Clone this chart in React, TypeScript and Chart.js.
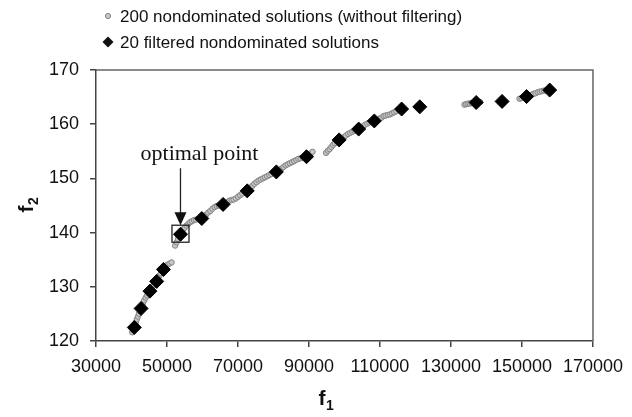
import React, { useEffect, useRef } from "react";
import { Chart, registerables } from "chart.js";

Chart.register(...registerables);

// ---- data ----
const xTickValues = [30000, 50000, 70000, 90000, 110000, 130000, 150000, 170000];
const yTickValues = [120, 130, 140, 150, 160, 170];

// 200 nondominated solutions (without filtering)
const allF1 = [
  40200, 40500, 40900, 41200, 41500, 41800, 42100, 42400, 42900, 43200, 43600, 44000, 44400, 44800,
  45500, 45900, 46300, 46700, 47500, 47900, 48300, 48600, 49400, 49800, 50200, 50700, 51300,
  52300, 52700, 53100, 53500, 54200, 54600, 55000, 55500, 56000, 56500, 57000, 57600, 58200, 58800,
  60400, 61000, 61600, 62200, 62800, 63400, 64000, 64600, 65200, 66400, 67000, 67600, 68200, 68800,
  69400, 70000, 70600, 71200, 71900, 73300, 74000, 74600, 75200, 75800, 76400, 77000, 77600, 78200,
  78800, 79400, 80100, 81500, 82200, 82800, 83400, 84000, 84600, 85200, 85800, 86400, 87000, 87600,
  88300, 90000, 90500, 91000,
  94800, 95300, 95800, 96300, 96800, 97300, 97800, 99200, 99800, 100400, 101000, 101600, 102200,
  102800, 103400, 104600, 105200, 105800, 106400, 107000, 107600, 109200, 109800, 110400, 111000,
  111600, 112200, 112800, 113400, 114000, 114600, 115300,
  133800, 134300, 134800, 135300, 135800, 136400, 137700, 138200,
  149300, 149900, 150500, 152000, 152600, 153200, 153800, 154400, 155000, 155600, 156200, 156800, 157300,
];
const allF2 = [
  121.6, 122.0, 122.9, 123.4, 124.0, 124.5, 125.0, 125.5, 126.4, 126.9, 127.5, 128.0, 128.4, 128.8,
  129.6, 130.1, 130.4, 130.7, 131.6, 132.1, 132.5, 132.9, 133.6, 133.9, 134.1, 134.3, 134.5,
  137.6, 138.2, 138.8, 139.3, 140.2, 140.6, 140.9, 141.3, 141.6, 141.9, 142.1, 142.3, 142.4, 142.5,
  142.9, 143.3, 143.7, 144.0, 144.4, 144.7, 144.9, 145.0, 145.1, 145.4, 145.6, 145.9, 146.0, 146.1,
  146.3, 146.6, 146.9, 147.2, 147.5, 148.1, 148.6, 149.0, 149.3, 149.6, 149.8, 150.0, 150.2, 150.4,
  150.6, 150.8, 151.0, 151.5, 151.8, 152.1, 152.4, 152.6, 152.8, 153.0, 153.2, 153.4, 153.6, 153.7,
  153.8, 154.3, 154.6, 154.9,
  154.7, 155.1, 155.4, 155.8, 156.2, 156.5, 156.8, 157.4, 157.6, 157.9, 158.2, 158.4, 158.6,
  158.8, 158.9, 159.3, 159.6, 159.9, 160.1, 160.3, 160.4, 160.8, 161.0, 161.2, 161.5,
  161.6, 161.7, 161.8, 162.0, 162.2, 162.4, 162.6,
  163.6, 163.7, 163.8, 163.8, 163.9, 163.9, 164.0, 164.1,
  164.7, 164.8, 164.9, 165.2, 165.4, 165.6, 165.7, 165.9, 166.0, 166.1, 166.2, 166.2, 166.3,
];

// 20 filtered nondominated solutions
const filteredF1 = [
  40800, 42700, 45200, 47100, 49000, 53800, 59800, 65800, 72600, 80800,
  89300, 98500, 104000, 108400, 116100, 121200, 137100, 144400, 151300, 157800,
];
const filteredF2 = [
  122.5, 126.0, 129.2, 131.0, 133.2, 139.7, 142.6, 145.2, 147.7, 151.2,
  154.0, 157.1, 159.1, 160.6, 162.8, 163.2, 164.0, 164.2, 165.1, 166.3,
];
const optimalIndex = 5;

const legendLabels = [
  "200 nondominated solutions (without filtering)",
  "20 filtered nondominated solutions",
];
const annotationText = "optimal point";
const xTitle = ["f", "1"];
const yTitle = ["f", "2"];

const SANS = '"Liberation Sans", Arial, sans-serif';
const SERIF = '"Liberation Serif", "Times New Roman", serif';

const GREY_FILL = "#c6c6c6";
const GREY_EDGE = "#858585";

function drawDiamond(ctx: CanvasRenderingContext2D, x: number, y: number, r: number) {
  ctx.beginPath();
  ctx.moveTo(x, y - r);
  ctx.lineTo(x + r, y);
  ctx.lineTo(x, y + r);
  ctx.lineTo(x - r, y);
  ctx.closePath();
  ctx.fill();
}

function drawSubTitle(
  ctx: CanvasRenderingContext2D,
  parts: string[],
  cx: number,
  cy: number,
  rotate: boolean
) {
  ctx.save();
  ctx.translate(cx, cy);
  if (rotate) ctx.rotate(-Math.PI / 2);
  ctx.fillStyle = "#111";
  ctx.textBaseline = "alphabetic";
  ctx.textAlign = "left";
  ctx.font = `bold 21px ${SANS}`;
  const w1 = ctx.measureText(parts[0]).width;
  ctx.font = `bold 14px ${SANS}`;
  const w2 = ctx.measureText(parts[1]).width;
  const start = -(w1 + w2) / 2;
  ctx.font = `bold 21px ${SANS}`;
  ctx.fillText(parts[0], start, 7);
  ctx.font = `bold 14px ${SANS}`;
  ctx.fillText(parts[1], start + w1 + 0.5, 12);
  ctx.restore();
}

const decorPlugin = {
  id: "decor",
  beforeDraw(chart: any) {
    const { ctx, width, height } = chart;
    ctx.save();
    ctx.fillStyle = "#fff";
    ctx.fillRect(0, 0, width, height);
    ctx.restore();
  },
  afterDraw(chart: any) {
    const { ctx, chartArea: a, scales } = chart;
    ctx.save();
    // top & right frame
    ctx.strokeStyle = "#666";
    ctx.lineWidth = 1.5;
    ctx.beginPath();
    ctx.moveTo(a.left, a.top);
    ctx.lineTo(a.right, a.top);
    ctx.lineTo(a.right, a.bottom);
    ctx.stroke();

    // optimal point box + arrow + text
    const px = scales.x.getPixelForValue(filteredF1[optimalIndex]);
    const py = scales.y.getPixelForValue(filteredF2[optimalIndex]);
    ctx.strokeStyle = "#222";
    ctx.lineWidth = 1.3;
    ctx.strokeRect(px - 8.5, py - 9, 17, 17);
    ctx.beginPath();
    ctx.moveTo(px, py - 66);
    ctx.lineTo(px, py - 20);
    ctx.stroke();
    ctx.fillStyle = "#111";
    ctx.beginPath();
    ctx.moveTo(px - 6, py - 22);
    ctx.lineTo(px + 6, py - 22);
    ctx.lineTo(px, py - 9);
    ctx.closePath();
    ctx.fill();
    ctx.font = `22px ${SERIF}`;
    ctx.textAlign = "center";
    ctx.textBaseline = "alphabetic";
    ctx.fillText(annotationText, px + 19, py - 74);

    // legend
    ctx.font = `17px ${SANS}`;
    ctx.textAlign = "left";
    ctx.textBaseline = "middle";
    const lx = 108;
    const ly1 = 16;
    const ly2 = 42;
    ctx.beginPath();
    ctx.arc(lx, ly1, 2.6, 0, Math.PI * 2);
    ctx.fillStyle = GREY_FILL;
    ctx.fill();
    ctx.strokeStyle = GREY_EDGE;
    ctx.lineWidth = 1;
    ctx.stroke();
    ctx.fillStyle = "#111";
    ctx.fillText(legendLabels[0], lx + 12, ly1 + 1);
    drawDiamond(ctx, lx, ly2, 5.5);
    ctx.fillText(legendLabels[1], lx + 12, ly2 + 1);

    // axis titles
    drawSubTitle(ctx, xTitle, 326, 398, false);
    drawSubTitle(ctx, yTitle, 26, 205, true);
    ctx.restore();
  },
};

export default function App() {
  const ref = useRef<HTMLCanvasElement>(null);
  useEffect(() => {
    if (!ref.current) return;
    const chart = new Chart(ref.current, {
      type: "scatter",
      data: {
        datasets: [
          {
            label: legendLabels[1],
            data: filteredF1.map((x, i) => ({ x, y: filteredF2[i] })),
            pointStyle: "rectRot",
            pointRadius: 7,
            backgroundColor: "#000",
            borderColor: "#000",
            borderWidth: 1,
            order: 1,
          },
          {
            label: legendLabels[0],
            data: allF1.map((x, i) => ({ x, y: allF2[i] })),
            pointStyle: "circle",
            pointRadius: 2.7,
            backgroundColor: GREY_FILL,
            borderColor: GREY_EDGE,
            borderWidth: 1,
            order: 2,
          },
        ],
      },
      options: {
        responsive: false,
        animation: false,
        events: [],
        layout: { padding: { top: 70, right: 32, left: 0, bottom: 0 } },
        plugins: { legend: { display: false }, tooltip: { enabled: false } },
        scales: {
          x: {
            type: "linear",
            min: 30000,
            max: 170000,
            afterBuildTicks: (s: any) => {
              s.ticks = xTickValues.map((v) => ({ value: v }));
            },
            afterFit: (s: any) => {
              s.height = 76;
            },
            border: { display: true, color: "#444", width: 1.5 },
            grid: {
              display: true,
              drawOnChartArea: false,
              drawTicks: true,
              tickLength: 6,
              color: "#444",
              lineWidth: 1.5,
            },
            ticks: {
              font: { family: SANS, size: 18 },
              color: "#111",
              padding: 9,
              maxRotation: 0,
              autoSkip: false,
              callback: (v: any) => String(v),
            },
          },
          y: {
            type: "linear",
            min: 120,
            max: 170,
            afterBuildTicks: (s: any) => {
              s.ticks = yTickValues.map((v) => ({ value: v }));
            },
            afterFit: (s: any) => {
              s.width = 96;
            },
            border: { display: true, color: "#444", width: 1.5 },
            grid: {
              display: true,
              drawOnChartArea: false,
              drawTicks: true,
              tickLength: 6,
              color: "#444",
              lineWidth: 1.5,
            },
            ticks: {
              font: { family: SANS, size: 18 },
              color: "#111",
              padding: 11,
              autoSkip: false,
              callback: (v: any) => String(v),
            },
          },
        },
      },
      plugins: [decorPlugin],
    });
    return () => chart.destroy();
  }, []);
  return (
    <div
      style={{
        position: "fixed",
        left: 0,
        top: 0,
        width: 632,
        height: 417,
        background: "#fff",
      }}
    >
      <canvas ref={ref} width={632} height={417} style={{ display: "block" }} />
    </div>
  );
}
